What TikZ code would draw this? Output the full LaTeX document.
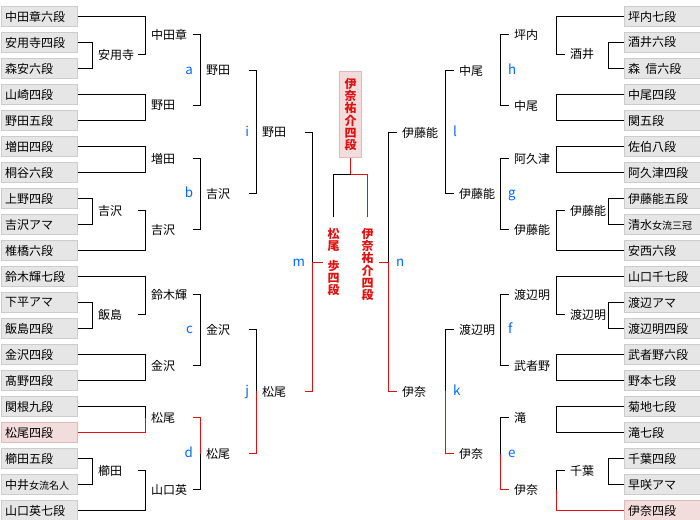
\documentclass[tikz,border=0pt]{standalone}
\usepackage{fontspec}
\setmainfont{Noto Sans CJK JP}

\definecolor{rougeT}{RGB}{221,17,17}
\definecolor{bleuL}{RGB}{0,102,255}
\definecolor{fondgris}{RGB}{230,230,230}
\definecolor{bordgris}{RGB}{204,204,204}
\definecolor{fondrose}{RGB}{243,220,220}
\definecolor{bordrose}{RGB}{221,187,187}

\newcommand{\petit}[1]{{\fontsize{7.5}{9}\selectfont #1}}

\tikzset{
  joueur/.style={draw=bordgris, fill=fondgris, anchor=west, minimum height=15pt,
    text width=51pt, inner xsep=3pt, inner ysep=0pt, align=left},
  nom/.style={anchor=west, inner sep=0pt},
  lettre/.style={text=bleuL, inner sep=0pt, font=\fontsize{10}{12}\selectfont},
  gagne/.style={draw=rougeT},
  finale/.style={text=rougeT, font=\bfseries\fontsize{9}{9.2}\selectfont, align=center,
    text width=9pt, inner sep=0pt, anchor=north},
  champion/.style={finale, anchor=center, draw=bordrose, fill=fondrose,
    minimum width=16.5pt, minimum height=64.5pt}
}

\begin{document}
\begin{tikzpicture}[x=0.75pt, y=-0.75pt, line width=0.75pt, font=\fontsize{9}{11}\selectfont]
\useasboundingbox (0,0) rectangle (700,520);
\begin{scope}[shift={(0.5,0.5)}]

% Joueurs, côté gauche
\foreach \nom [count=\i] in {中田章六段,安用寺四段,森安六段,山崎四段,野田五段,
    増田四段,桐谷六段,上野四段,吉沢アマ,椎橋六段,鈴木輝七段,下平アマ,飯島四段,
    金沢四段,髙野四段,関根九段,松尾四段,櫛田五段,中井\petit{女流名人},山口英七段}{
  \ifnum\i=17 \def\fc{fondrose}\def\bc{bordrose}\else\def\fc{fondgris}\def\bc{bordgris}\fi
  \node[joueur, fill=\fc, draw=\bc] (G\i) at (0,{16+26*(\i-1)}) {\nom};
}

% Joueurs, côté droit
\foreach \nom [count=\i] in {坪内七段,酒井六段,森\hspace{4pt}信六段,中尾四段,関五段,
    佐伯八段,阿久津四段,伊藤能五段,清水\petit{女流三冠},安西六段,山口千七段,渡辺アマ,
    渡辺明四段,武者野六段,野本七段,菊地七段,滝七段,千葉四段,早咲アマ,伊奈四段}{
  \ifnum\i=20 \def\fc{fondrose}\def\bc{bordrose}\else\def\fc{fondgris}\def\bc{bordgris}\fi
  \node[joueur, fill=\fc, draw=\bc] (D\i) at (623,{16+26*(\i-1)}) {\nom};
}

% Points de rencontre, côté gauche
\coordinate (pa) at (92,54);
\coordinate (a1) at (145,34);
\coordinate (a2) at (145,105);
\coordinate (a) at (200,70);
\coordinate (b1) at (145,158);
\coordinate (pb) at (92,210);
\coordinate (b2) at (145,229);
\coordinate (b) at (200,193);
\coordinate (i) at (256,132);
\coordinate (c1) at (145,294);
\coordinate (pc) at (92,314);
\coordinate (c2) at (145,365);
\coordinate (c) at (200,329);
\coordinate (d1) at (145,417);
\coordinate (pd) at (92,470);
\coordinate (d2) at (145,489);
\coordinate (d) at (200,453);
\coordinate (j) at (256,391);
\coordinate (m) at (312,262);

% Points de rencontre, côté droit
\coordinate (ph) at (608,54);
\coordinate (h1) at (556,34);
\coordinate (h2) at (556,105);
\coordinate (h) at (500,70);
\coordinate (g1) at (556,158);
\coordinate (pg) at (608,210);
\coordinate (g2) at (556,229);
\coordinate (g) at (500,193);
\coordinate (l) at (445,132);
\coordinate (f1) at (556,294);
\coordinate (pf) at (608,314);
\coordinate (f2) at (556,365);
\coordinate (f) at (500,329);
\coordinate (e1) at (556,417);
\coordinate (pe) at (608,470);
\coordinate (e2) at (556,489);
\coordinate (e) at (500,453);
\coordinate (k) at (445,391);
\coordinate (n) at (388,262);

% Tableau gauche
\draw (G2.east) -| (pa) |- (G3.east);
\draw (G1.east) -| (a1) |- ([xshift=-6pt]pa -| a1);
\draw (G4.east) -| (a2) |- (G5.east);
\draw ([xshift=-6pt]a1 -| a) -| (a) |- ([xshift=-6pt]a2 -| a);
\draw (G6.east) -| (b1) |- (G7.east);
\draw (G8.east) -| (pb) |- (G9.east);
\draw ([xshift=-6pt]pb -| b2) -| (b2) |- (G10.east);
\draw ([xshift=-6pt]b1 -| b) -| (b) |- ([xshift=-6pt]b2 -| b);
\draw ([xshift=-6pt]a -| i) -| (i) |- ([xshift=-6pt]b -| i);
\draw (G11.east) -| (c1) |- ([xshift=-6pt]pc -| c1);
\draw (G12.east) -| (pc) |- (G13.east);
\draw (G14.east) -| (c2) |- (G15.east);
\draw ([xshift=-6pt]c1 -| c) -| (c) |- ([xshift=-6pt]c2 -| c);
\draw (G16.east) -| (d1);
\draw[gagne] (d1) |- (G17.east);
\draw (G18.east) -| (pd) |- (G19.east);
\draw ([xshift=-6pt]pd -| d2) -| (d2) |- (G20.east);
\draw[gagne] ([xshift=-6pt]d1 -| d) -| (d);
\draw (d) |- ([xshift=-6pt]d2 -| d);
\draw ([xshift=-6pt]c -| j) -| (j);
\draw[gagne] (j) |- ([xshift=-6pt]d -| j);
\draw ([xshift=-6pt]i -| m) -| (m);
\draw[gagne] (m) |- ([xshift=-6pt]j -| m);
\draw[gagne] (m) -- ++(10,0);

% Tableau droit
\draw (D2.west) -| (ph) |- (D3.west);
\draw (D1.west) -| (h1) |- ([xshift=6pt]ph -| h1);
\draw (D4.west) -| (h2) |- (D5.west);
\draw ([xshift=6pt]h1 -| h) -| (h) |- ([xshift=6pt]h2 -| h);
\draw (D6.west) -| (g1) |- (D7.west);
\draw (D8.west) -| (pg) |- (D9.west);
\draw ([xshift=6pt]pg -| g2) -| (g2) |- (D10.west);
\draw ([xshift=6pt]g1 -| g) -| (g) |- ([xshift=6pt]g2 -| g);
\draw ([xshift=6pt]h -| l) -| (l) |- ([xshift=6pt]g -| l);
\draw (D11.west) -| (f1) |- ([xshift=6pt]pf -| f1);
\draw (D12.west) -| (pf) |- (D13.west);
\draw (D14.west) -| (f2) |- (D15.west);
\draw ([xshift=6pt]f1 -| f) -| (f) |- ([xshift=6pt]f2 -| f);
\draw (D16.west) -| (e1) |- (D17.west);
\draw (D18.west) -| (pe) |- (D19.west);
\draw ([xshift=6pt]pe -| e2) -| (e2);
\draw[gagne] (e2) |- (D20.west);
\draw ([xshift=6pt]e1 -| e) -| (e);
\draw[gagne] (e) |- ([xshift=6pt]e2 -| e);
\draw ([xshift=6pt]f -| k) -| (k);
\draw[gagne] (k) |- ([xshift=6pt]e -| k);
\draw ([xshift=6pt]l -| n) -| (n);
\draw[gagne] (n) |- ([xshift=6pt]k -| n);
\draw[gagne] (n) -- ++(-10,0);

% Vainqueurs, côté gauche
\node[nom] (wpa) at ([xshift=3.75pt]pa) {安用寺};
\node[nom] (wa1) at ([xshift=3.75pt]a1) {中田章};
\node[nom] (wa2) at ([xshift=3.75pt]a2) {野田};
\node[nom] (wa) at ([xshift=3.75pt]a) {野田};
\node[nom] (wb1) at ([xshift=3.75pt]b1) {増田};
\node[nom] (wpb) at ([xshift=3.75pt]pb) {吉沢};
\node[nom] (wb2) at ([xshift=3.75pt]b2) {吉沢};
\node[nom] (wb) at ([xshift=3.75pt]b) {吉沢};
\node[nom] (wi) at ([xshift=3.75pt]i) {野田};
\node[nom] (wc1) at ([xshift=3.75pt]c1) {鈴木輝};
\node[nom] (wpc) at ([xshift=3.75pt]pc) {飯島};
\node[nom] (wc2) at ([xshift=3.75pt]c2) {金沢};
\node[nom] (wc) at ([xshift=3.75pt]c) {金沢};
\node[nom] (wd1) at ([xshift=3.75pt]d1) {松尾};
\node[nom] (wpd) at ([xshift=3.75pt]pd) {櫛田};
\node[nom] (wd2) at ([xshift=3.75pt]d2) {山口英};
\node[nom] (wd) at ([xshift=3.75pt]d) {松尾};
\node[nom] (wj) at ([xshift=3.75pt]j) {松尾};

% Vainqueurs, côté droit
\node[nom] (wph) at ([xshift=9.75pt]ph -| h1) {酒井};
\node[nom] (wh1) at ([xshift=9.75pt]h1 -| h) {坪内};
\node[nom] (wh2) at ([xshift=9.75pt]h2 -| h) {中尾};
\node[nom] (wh) at ([xshift=9.75pt]h -| l) {中尾};
\node[nom] (wg1) at ([xshift=9.75pt]g1 -| g) {阿久津};
\node[nom] (wpg) at ([xshift=9.75pt]pg -| g2) {伊藤能};
\node[nom] (wg2) at ([xshift=9.75pt]g2 -| g) {伊藤能};
\node[nom] (wg) at ([xshift=9.75pt]g -| l) {伊藤能};
\node[nom] (wl) at ([xshift=9.75pt]l -| n) {伊藤能};
\node[nom] (wf1) at ([xshift=9.75pt]f1 -| f) {渡辺明};
\node[nom] (wpf) at ([xshift=9.75pt]pf -| f1) {渡辺明};
\node[nom] (wf2) at ([xshift=9.75pt]f2 -| f) {武者野};
\node[nom] (wf) at ([xshift=9.75pt]f -| k) {渡辺明};
\node[nom] (we1) at ([xshift=9.75pt]e1 -| e) {滝};
\node[nom] (wpe) at ([xshift=9.75pt]pe -| e2) {千葉};
\node[nom] (we2) at ([xshift=9.75pt]e2 -| e) {伊奈};
\node[nom] (we) at ([xshift=9.75pt]e -| k) {伊奈};
\node[nom] (wk) at ([xshift=9.75pt]k -| n) {伊奈};

% Lettres des rencontres
\foreach \p in {a,b,c,d,i,j,m}
  \node[lettre, anchor=base east] (l\p) at ([xshift=-5.25pt,yshift=-3pt]\p) {\p};
\foreach \p in {h,g,f,e,l,k,n}
  \node[lettre, anchor=base west] (l\p) at ([xshift=5.25pt,yshift=-3pt]\p) {\p};

% Finale
\node[finale] (fm) at (333,227) {松\\尾\\[5.5pt]歩\\四\\段};
\node[finale] (fn) at (367,227) {伊\\奈\\祐\\介\\四\\段};
\node[champion] (champ) at (350,114) {伊\\奈\\祐\\介\\四\\段};
\coordinate (fin) at (350,174);
\draw ([yshift=7.5pt]fm.north) |- (fin);
\draw[gagne] ([yshift=7.5pt]fn.north) |- (fin);
\draw[gagne] (champ.south) -- (fin);

\end{scope}
\end{tikzpicture}
\end{document}
